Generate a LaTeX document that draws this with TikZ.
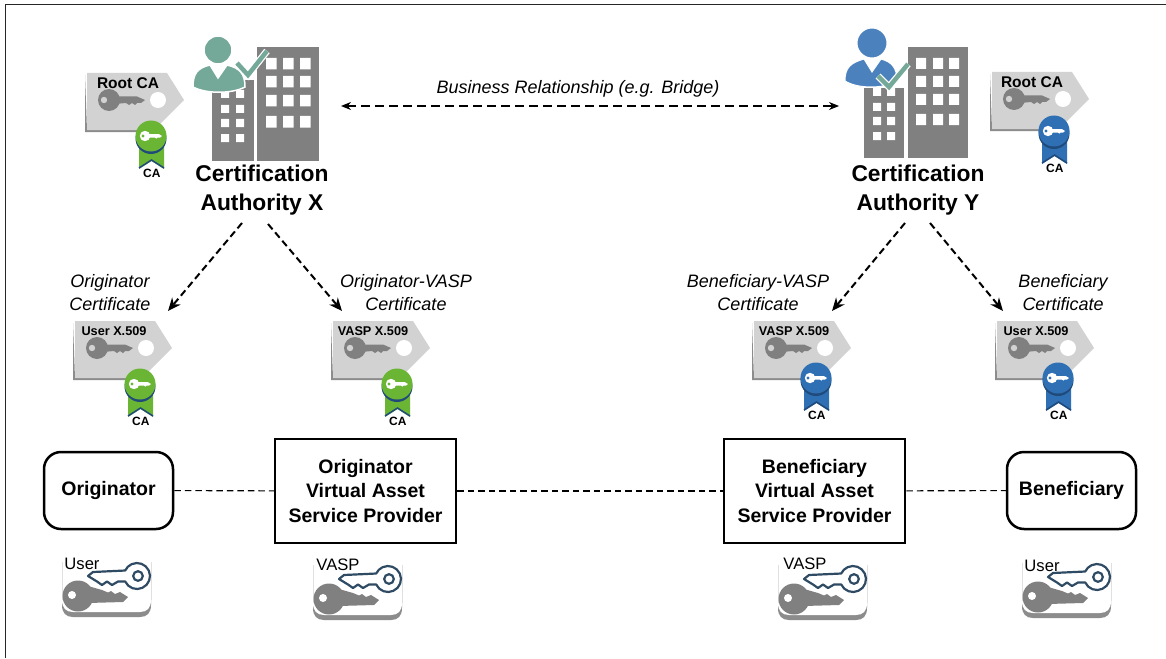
\documentclass[tikz,border=0pt]{standalone}
\usepackage{fontspec}
\setmainfont{Liberation Sans}
\usetikzlibrary{arrows.meta}
\definecolor{cgreen}{HTML}{6AB534}
\definecolor{cblue}{HTML}{2F70B5}
\definecolor{cnavy}{HTML}{1F4A7A}
\definecolor{cgray}{HTML}{808080}
\definecolor{ctag}{HTML}{D2D2D2}
\definecolor{cshadow}{HTML}{8C8C8C}
\definecolor{cteal}{HTML}{74A898}
\definecolor{cperson}{HTML}{4B82BD}
\definecolor{ckey}{HTML}{2F4A63}
\tikzset{
  title/.style={font=\fontsize{22.8}{28.5}\selectfont\bfseries,align=center,inner sep=0pt},
  clabel/.style={font=\fontsize{18}{23}\selectfont\itshape,align=center,inner sep=0pt},
  boxtext/.style={font=\fontsize{19.5}{24.5}\selectfont\bfseries,align=center,inner sep=0pt},
  flatbox/.style={draw=black,line width=2.5pt,fill=white},
  roundbox/.style={draw=black,line width=2.5pt,fill=white,rounded corners=17pt},
  certarrow/.style={draw=black,line width=2pt,dash pattern=on 7pt off 4pt,-{Stealth[length=13pt,width=11pt]}},
  bizarrow/.style={draw=black,line width=1.2pt,dash pattern=on 9pt off 5pt,{Stealth[length=10pt,width=8pt]}-{Stealth[length=10pt,width=8pt]}},
  link/.style={draw=black,line width=1.1pt,dash pattern=on 6.5pt off 4pt},
  tagtext/.style={font=\fontsize{12.7}{14}\selectfont\bfseries,inner sep=0pt},
  roottext/.style={font=\fontsize{15.5}{17}\selectfont\bfseries,inner sep=0pt},
  catext/.style={font=\fontsize{12}{13}\selectfont\bfseries,inner sep=0pt},
  keytext/.style={font=\fontsize{16.6}{18}\selectfont,inner sep=0pt},
}
% #1 name, #2 x, #3 y, #4 label style, #5 label, #6 label dx
\newcommand{\certtag}[6]{%
  \begin{scope}[shift={(#2,#3)}]
    \fill[cshadow] (-2,2) -- (-2,59) -- (68,59) -- (70,57) -- (0,57) -- cycle;
    \fill[ctag] (0,0) -- (80,0) -- (97,27) -- (67,57) -- (0,57) -- cycle;
    \fill[white] (71,27) circle[radius=8pt];
    \fill[cgray] (22,27) circle[radius=11pt];
    \fill[cgray] (28,23.5) -- (50,23.5) -- (58,27) -- (54,30) -- (50,30) -- (48,32) -- (45,30) -- (42,32) -- (39,30) -- (28,31) -- cycle;
    \fill[ctag] (17,27) circle[radius=3.2pt];
    \node[#4] (#1) at (#6,10) {#5};
  \end{scope}}
% #1 name, #2 x, #3 y, #4 colour
\newcommand{\medal}[4]{%
  \begin{scope}[shift={(#2,#3)}]
    \fill[#4] (-12,8) -- (13,8) -- (13,33) -- (0.5,25) -- (-12,33) -- cycle;
    \draw[cnavy,line width=1.5pt] (-12,32) -- (0.5,24) -- (13,32);
    \fill[cnavy] (0,2.5) circle[radius=15.5pt];
    \fill[#4] (0,0) circle[radius=15.5pt];
    \fill[white] (-6,0) circle[radius=5.2pt];
    \fill[white] (-3,-1.8) -- (8,-1.8) -- (11,0) -- (9,1.6) -- (6.5,1.6) -- (5.5,2.6) -- (4,1.6) -- (-3,1.8) -- cycle;
    \fill[#4] (-8,0) circle[radius=1.6pt];
    \node[catext] (#1) at (0.8,37.5) {CA};
  \end{scope}}
% #1 name, #2 dx, #3 dy, #4 text, #5 text x, #6 text y
\newcommand{\keycard}[6]{%
  \begin{scope}[shift={(#2,#3)}]
    \fill[cshadow] (62,598) -- (151,598) -- (151,605) .. controls (151,613) and (147,617) .. (140,617) -- (73,617) .. controls (66,617) and (62,613) .. (62,605) -- cycle;
    \fill[white] (62,575) -- (151,575) -- (151,600) .. controls (151,608) and (147,612) .. (140,612) -- (73,612) .. controls (66,612) and (62,608) .. (62,600) -- cycle;
    \draw[black!12,line width=0.6pt] (62,562) -- (62,600);
    \draw[black!12,line width=0.6pt] (151,562) -- (151,600);
    \fill[cgray] (78,596) circle[radius=15.5pt];
    \fill[cgray] (88,586) -- (102,590) -- (108,592.5) -- (111,591) -- (115,594) -- (120,592) -- (128,597) -- (123,602) -- (88,603) -- cycle;
    \fill[white] (72,595) circle[radius=4pt];
    \draw[ckey,line width=2.2pt,line join=round,fill=white] (125.2,581.5) arc[start angle=205,end angle=515,radius=13pt] -- (93,572) -- (88,576) -- (97,581.5) -- (102,585) -- (107,581.5) -- (112,585) -- (118,581.5) -- cycle;
    \draw[ckey,line width=2.2pt] (138,576) circle[radius=4.8pt];
    \node[keytext] (#1) at (#5,#6) {#4};
  \end{scope}}
\begin{document}
\begin{tikzpicture}[x=1pt,y=-1pt]
\useasboundingbox (0,0) rectangle (1166,658);
\fill[white] (0,0) rectangle (1166,658);
% frame
\coordinate (frameA) at (5.5,658);
\coordinate (frameB) at (5.5,4.5);
\coordinate (frameC) at (1166,4.5);
\draw[black!85,line width=1.2pt] (frameA) -- (frameB) -- (frameC);

% --- building X
\fill[cgray] (212,80) rectangle (254,161);
\fill[cgray] (257,47) rectangle (319,161);
\fill[white] \foreach \c in {266,283,300}{\foreach \r in {58,76,95,116}{(\c,\r) rectangle ++(10.5,11.5)}};
\fill[white] \foreach \c in {221,236}{\foreach \r in {90,105,119,134}{(\c,\r) rectangle ++(8,8)}};
% person X
\fill[cteal,draw=white,line width=1.5pt] (218,50) circle[radius=14pt];
\fill[cteal,draw=white,line width=1.5pt] (193,87) .. controls (193,74) and (197,68) .. (210,65) -- (218,78) -- (227,65) .. controls (240,68) and (245,74) .. (245,87) .. controls (232,94) and (206,94) .. (193,87) -- cycle;
\draw[white,line width=7pt,line join=miter] (237,63) -- (248,75) -- (267,51);
\draw[cteal,line width=4.5pt,line join=miter] (237,63) -- (248,75) -- (267,51);

% --- building Y
\fill[cgray] (864,88) rectangle (904,158);
\fill[cgray] (908,47) rectangle (968,158);
\fill[white] \foreach \c in {916,933,949}{\foreach \r in {58,76,94,114}{(\c,\r) rectangle ++(10,11)}};
\fill[white] \foreach \c in {873,887}{\foreach \r in {88,103,117,132}{(\c,\r) rectangle ++(8,8)}};
% person Y
\fill[cperson,draw=white,line width=1pt] (872,43) circle[radius=15pt];
\fill[cperson,draw=white,line width=1pt] (845,81) .. controls (845,68) and (850,63) .. (864,59) -- (872,72) -- (881,59) .. controls (892,62) and (897,68) .. (897,81) .. controls (884,89) and (858,89) .. (845,81) -- cycle;
\draw[white,line width=7pt,line join=miter] (878,76) -- (889,87) -- (908,64);
\draw[cteal,line width=4.5pt,line join=miter] (878,76) -- (889,87) -- (908,64);

% titles
\node[title] (cax) at (262,190) {Certification\\Authority X};
\node[title] (cay) at (918,190) {Certification\\Authority Y};

% root tags
\certtag{rootx}{87}{73}{roottext}{Root CA}{41}
\medal{rootxca}{151}{136}{cgreen}
\certtag{rooty}{992}{72}{roottext}{Root CA}{40}
\medal{rootyca}{1054}{131}{cblue}

% business relationship
\coordinate (bizL) at (341,106);
\coordinate (bizR) at (839,106);
\draw[bizarrow] (bizL) -- (bizR);
\node[clabel] (biz) at (578,89) {Business Relationship (e.g. Bridge)};

% certificate labels
\node[clabel] (l1) at (110,292.5) {Originator\\Certificate};
\node[clabel] (l2) at (406,292.5) {Originator-VASP\\Certificate};
\node[clabel] (l3) at (758,292.5) {Beneficiary-VASP\\Certificate};
\node[clabel] (l4) at (1063,292.5) {Beneficiary\\Certificate};

% certificates
\certtag{tagu1}{75}{321}{tagtext}{User X.509}{39}
\medal{ca1}{140}{384}{cgreen}
\certtag{tagv1}{333}{321}{tagtext}{VASP X.509}{40}
\medal{ca2}{397}{384}{cgreen}
\certtag{tagv2}{754}{321}{tagtext}{VASP X.509}{40}
\medal{ca3}{816}{378}{cblue}
\certtag{tagu2}{997}{321}{tagtext}{User X.509}{39}
\medal{ca4}{1058}{378}{cblue}

% certificate arrows
\coordinate (a1s) at (242,223);
\coordinate (a1e) at (168,311);
\coordinate (a2s) at (268,224);
\coordinate (a2e) at (342,311);
\coordinate (a3s) at (905,223);
\coordinate (a3e) at (832,311);
\coordinate (a4s) at (930,223);
\coordinate (a4e) at (1003,311);
\draw[certarrow] (a1s) -- (a1e);
\draw[certarrow] (a2s) -- (a2e);
\draw[certarrow] (a3s) -- (a3e);
\draw[certarrow] (a4s) -- (a4e);

% parties
\node[roundbox,minimum width=129pt,minimum height=77pt,inner sep=0pt] (orig) at (108.5,490.5) {};
\node[boxtext] at (orig.center) {Originator};
\node[flatbox,minimum width=181pt,minimum height=104pt,inner sep=0pt] (ovasp) at (365.5,491) {};
\node[boxtext] at (ovasp.center) {Originator\\Virtual Asset\\Service Provider};
\node[flatbox,minimum width=181pt,minimum height=104pt,inner sep=0pt] (bvasp) at (814.5,491) {};
\node[boxtext] at (bvasp.center) {Beneficiary\\Virtual Asset\\Service Provider};
\node[roundbox,minimum width=129pt,minimum height=77pt,inner sep=0pt] (bene) at (1071.5,490.5) {};
\node[boxtext] at (bene.center) {Beneficiary};

\draw[link] (orig) -- (ovasp);
\draw[link] (ovasp) -- (bvasp);
\draw[link] (bvasp) -- (bene);

% key cards
\keycard{k1}{0}{0}{User}{82}{564}
\keycard{k2}{251}{3}{VASP}{87}{562}
\keycard{k3}{716}{3}{VASP}{89}{561}
\keycard{k4}{960}{1}{User}{82}{565}
\end{tikzpicture}
\end{document}
